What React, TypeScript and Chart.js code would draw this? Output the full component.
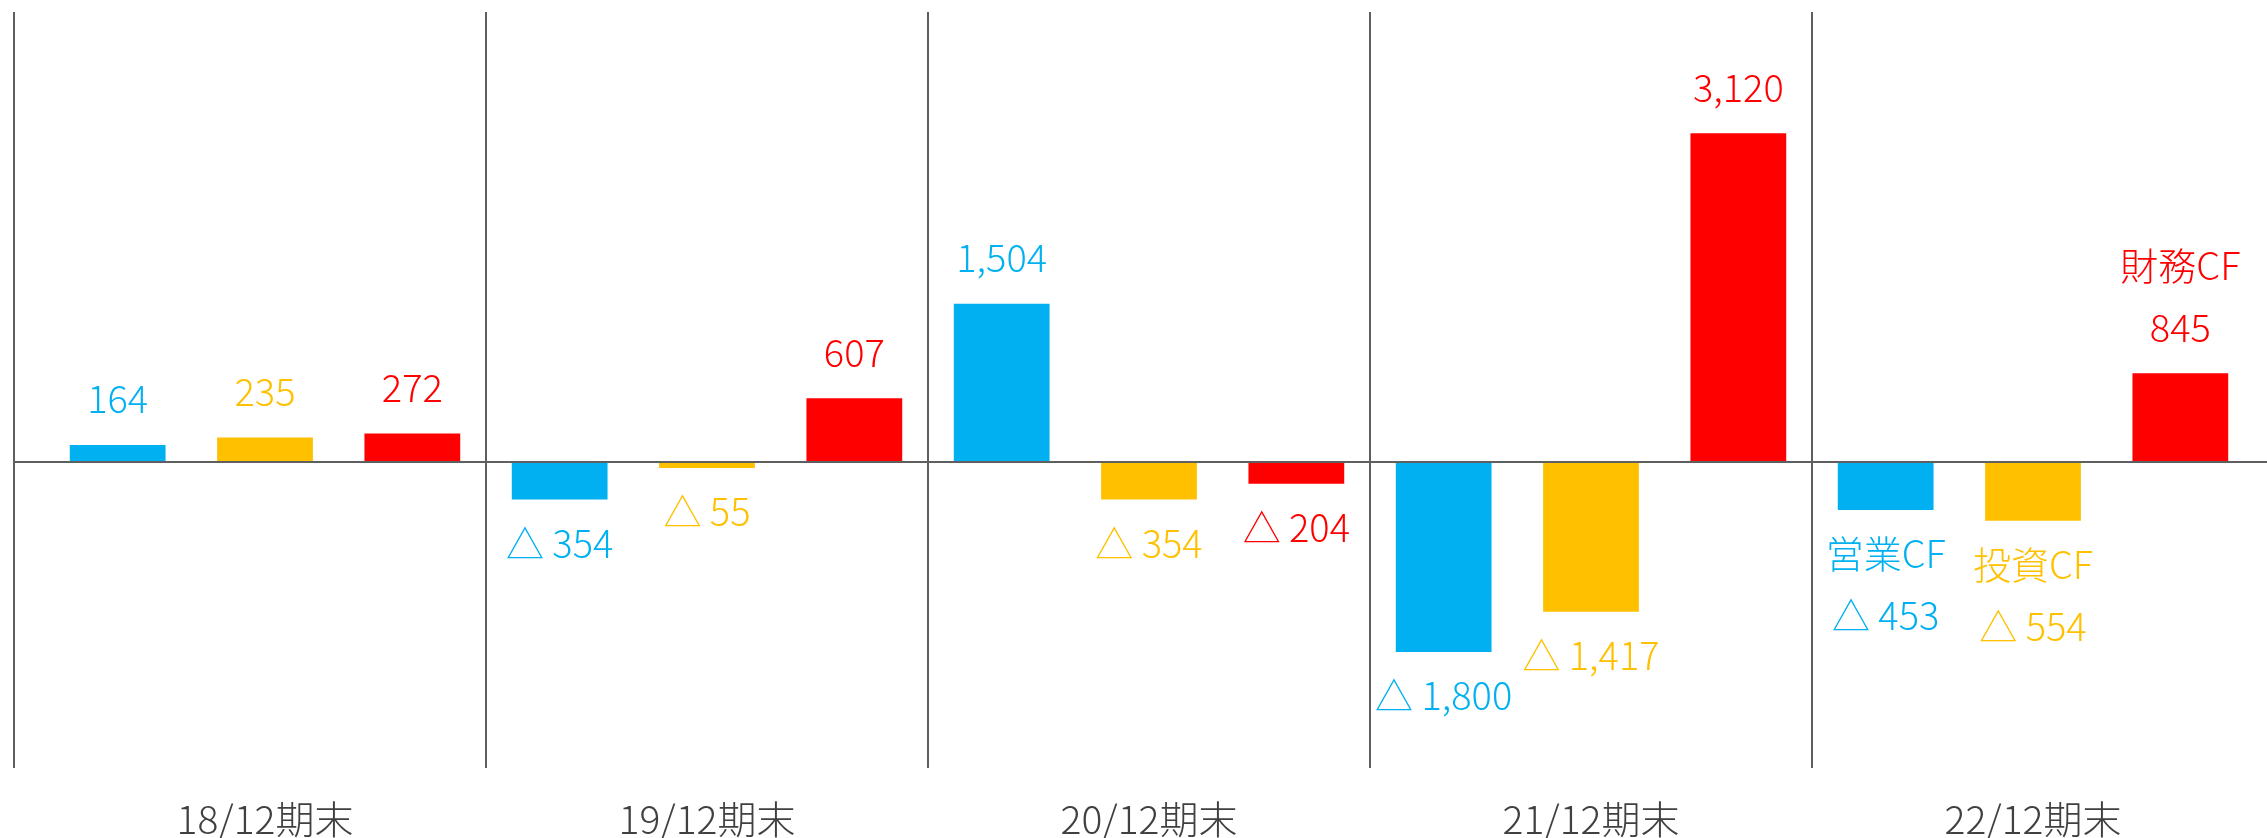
import React, { useEffect, useRef } from 'react';
import { Chart, registerables } from 'chart.js';

Chart.register(...registerables);

const categories = ['18/12期末', '19/12期末', '20/12期末', '21/12期末', '22/12期末'];
const seriesNames = ['営業CF', '投資CF', '財務CF'];
const operatingCF = [164, -354, 1504, -1800, -453];
const investingCF = [235, -55, -354, -1417, -554];
const financingCF = [272, 607, -204, 3120, 845];
const seriesColors = ['#00B0F0', '#FFC000', '#FF0000'];
const nameShownAt = 4; // category index where series names are printed with the value
const yMin = -2900;
const yMax = 4270;

const FONT = '"Noto Sans CJK JP", "Noto Sans", sans-serif';
const LINE_COLOR = '#5f5f5f';

const formatValue = (v: number) =>
  v < 0 ? '△ ' + Math.abs(v).toLocaleString('en-US') : v.toLocaleString('en-US');

const decorPlugin = {
  id: 'decor',
  beforeDatasetsDraw(chart: any) {
    const { ctx, chartArea, scales } = chart;
    const xs = scales.x;
    ctx.save();
    ctx.strokeStyle = LINE_COLOR;
    ctx.lineWidth = 2;
    const leftX = chartArea.left - 30;
    ctx.beginPath();
    ctx.moveTo(leftX, chartArea.top);
    ctx.lineTo(leftX, chartArea.bottom);
    for (let i = 1; i < categories.length; i++) {
      const px = Math.round((xs.getPixelForValue(i - 1) + xs.getPixelForValue(i)) / 2);
      ctx.moveTo(px, chartArea.top);
      ctx.lineTo(px, chartArea.bottom);
    }
    ctx.stroke();
    ctx.restore();
  },
  afterDatasetsDraw(chart: any) {
    const { ctx, chartArea, scales } = chart;
    const zeroY = Math.round(scales.y.getPixelForValue(0));
    ctx.save();
    ctx.strokeStyle = LINE_COLOR;
    ctx.lineWidth = 2;
    ctx.beginPath();
    ctx.moveTo(chartArea.left - 30, zeroY);
    ctx.lineTo(chart.width, zeroY);
    ctx.stroke();

    ctx.font = '300 38px ' + FONT;
    ctx.textAlign = 'center';
    ctx.textBaseline = 'middle';
    chart.data.datasets.forEach((ds: any, di: number) => {
      const meta = chart.getDatasetMeta(di);
      ctx.fillStyle = seriesColors[di];
      meta.data.forEach((el: any, j: number) => {
        const v = ds.data[j] as number;
        const lines: string[] = [];
        if (j === nameShownAt) lines.push(seriesNames[di]);
        lines.push(formatValue(v));
        const gap = 62;
        if (v >= 0) {
          const last = el.y - 46;
          lines.forEach((t, k) => {
            ctx.fillText(t, el.x, last - (lines.length - 1 - k) * gap);
          });
        } else {
          const first = el.y + 44;
          lines.forEach((t, k) => {
            ctx.fillText(t, el.x, first + k * gap);
          });
        }
      });
    });
    ctx.restore();
  },
};

export default function App() {
  const ref = useRef<HTMLCanvasElement>(null);
  useEffect(() => {
    const values = [operatingCF, investingCF, financingCF];
    const chart = new Chart(ref.current as HTMLCanvasElement, {
      type: 'bar',
      data: {
        labels: categories,
        datasets: values.map((arr, i) => ({
          label: seriesNames[i],
          data: arr,
          backgroundColor: seriesColors[i],
          borderWidth: 0,
          categoryPercentage: 1,
          barPercentage: 0.65,
        })),
      },
      options: {
        animation: false,
        responsive: false,
        maintainAspectRatio: false,
        layout: { padding: { left: 44, right: 13, top: 12, bottom: 0 } },
        plugins: {
          legend: { display: false },
          tooltip: { enabled: false },
        },
        scales: {
          x: {
            grid: { display: false, drawTicks: false },
            border: { display: false },
            ticks: {
              font: { family: FONT, size: 39, weight: '300' },
              color: '#404040',
              padding: 28,
              maxRotation: 0,
            },
            afterFit: (scale: any) => {
              scale.height = 70;
            },
          },
          y: {
            display: false,
            min: yMin,
            max: yMax,
          },
        },
      },
      plugins: [decorPlugin],
    } as any);
    return () => chart.destroy();
  }, []);
  return (
    <div style={{ position: 'absolute', left: 0, top: 0, width: 2267, height: 838, background: '#fff' }}>
      <canvas ref={ref} width={2267} height={838} style={{ display: 'block', width: 2267, height: 838 }} />
    </div>
  );
}
